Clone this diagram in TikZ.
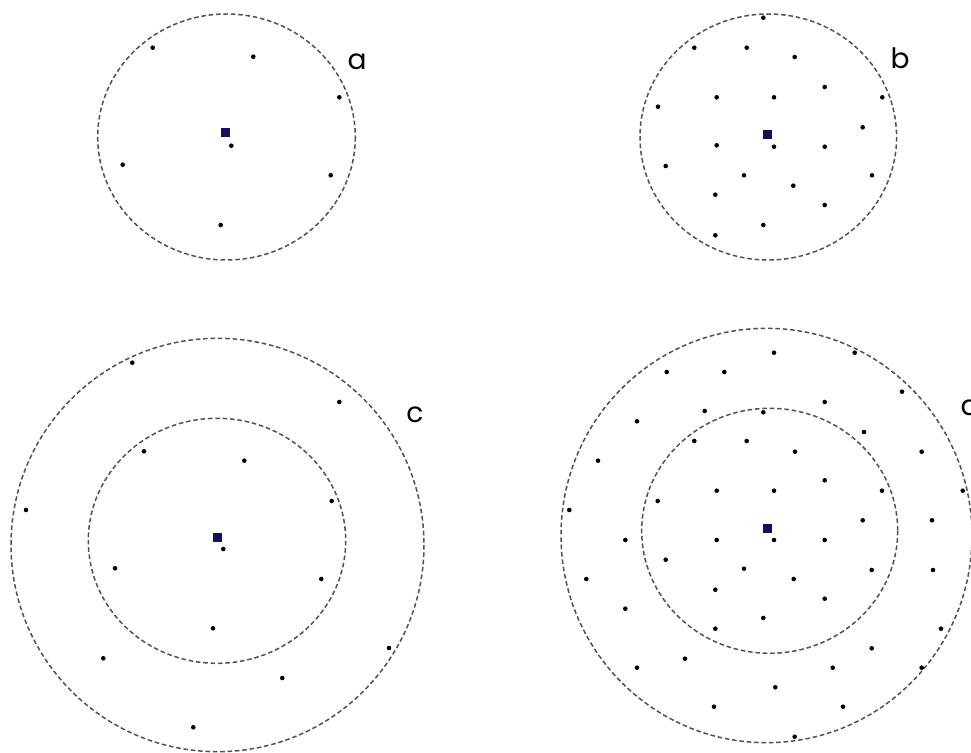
\documentclass[tikz,border=0pt]{standalone}
\usepackage{fontspec}
\setmainfont{Poppins}
\definecolor{centro}{RGB}{18,18,92}
\definecolor{borde}{RGB}{80,80,80}
\tikzset{
  limite/.style={draw=borde, line width=0.85pt, dash pattern=on 2.6pt off 1.6pt},
  etiqueta/.style={font=\fontsize{16}{18}\selectfont, inner sep=0pt}
}
\newcommand{\centro}[1]{\fill[centro] #1 ++(-4.5,-4.5) rectangle ++(9,9);}
\begin{document}
\begin{tikzpicture}[x=0.02cm, y=-0.02cm]
    \useasboundingbox (0,0) rectangle (971,753);

    % Panel a: un anillo, pocos puntos
    \draw[limite] (226.5,137) ellipse (128.8 and 123);
    \centro{(225,133)}
    \foreach \x/\y in {152.7/47.7, 253.3/56.7, 339.3/97.3, 231.3/145.7,
                       122.7/164.7, 330.7/175.3, 220.7/225} {
        \fill (\x,\y) circle (2.3);
    }
    \node[etiqueta] (la) at (357,62) {a};

    % Panel b: un anillo, muchos puntos
    \draw[limite] (768.3,137) ellipse (128.3 and 123);
    \centro{(767.3,135)}
    \foreach \x/\y in {763.3/17.7, 694.3/47.7, 746.7/47.7, 794.7/57,
                       824.7/87, 716.7/97.3, 774/97.3, 882.3/97.3,
                       658/106.7, 862.7/127.3, 716.7/145.3, 774/146.7,
                       824.7/146.7, 665.7/166, 744/175.3, 793.3/185.7,
                       872/175.3, 715.3/194.7, 824.7/205, 763.3/225,
                       715.3/235.3} {
        \fill (\x,\y) circle (2.3);
    }
    \node[etiqueta] (lb) at (900,58) {b};

    % Panel c: dos anillos, pocos puntos
    \draw[limite] (217.5,545) ellipse (206.5 and 206.7);
    \draw[limite] (217,540.8) ellipse (128.7 and 122.5);
    \centro{(217,537.3)}
    \foreach \x/\y in {132.3/362.7, 339.3/402, 144/451.3, 244.3/460.7,
                       26/510, 331.7/501, 223.3/549, 115/568.3,
                       321.3/579, 213/628.3, 389/648, 103.3/658.3,
                       282.3/678, 193.3/727.3} {
        \fill (\x,\y) circle (2.3);
    }
    \node[etiqueta] (lc) at (415,415) {c};

    % Panel d: dos anillos, muchos puntos (la letra queda cortada en el borde)
    \draw[limite] (766.5,535.5) ellipse (205.5 and 207.2);
    \draw[limite] (769.7,530.8) ellipse (128 and 122.5);
    \centro{(767.3,528.3)}
    \foreach \x/\y in {774/352.7, 854.7/352.7, 666.7/372, 724.3/372,
                       902/391.7, 824.7/402, 704.7/411, 763.3/412.3,
                       637/421.3, 864/432, 694.3/441, 746.7/441,
                       795/451.7, 921.7/451.7, 598/460.7, 824.7/480.3,
                       716.7/490.7, 774/490.7, 882/490.7, 962.7/490.7,
                       657.7/501, 569.3/510, 862.7/520.3, 932/520.3,
                       625.3/540, 716.7/540, 774/540, 824.7/540,
                       665.7/559.7, 744/568.7, 871.7/570, 933/570,
                       586.3/579, 793.7/579, 715.3/589.7, 824.7/598.7,
                       625.3/608.7, 763.3/618, 941/628.7, 715.3/628.7,
                       871.7/648.3, 685/658.7, 637/667.7, 832.7/667.7,
                       921.7/667.7, 775.3/687.3, 714/706.7, 843/706.7,
                       794.7/736.7} {
        \fill (\x,\y) circle (2.3);
    }
    \node[etiqueta] (ld) at (970,405) {d};
\end{tikzpicture}
\end{document}
